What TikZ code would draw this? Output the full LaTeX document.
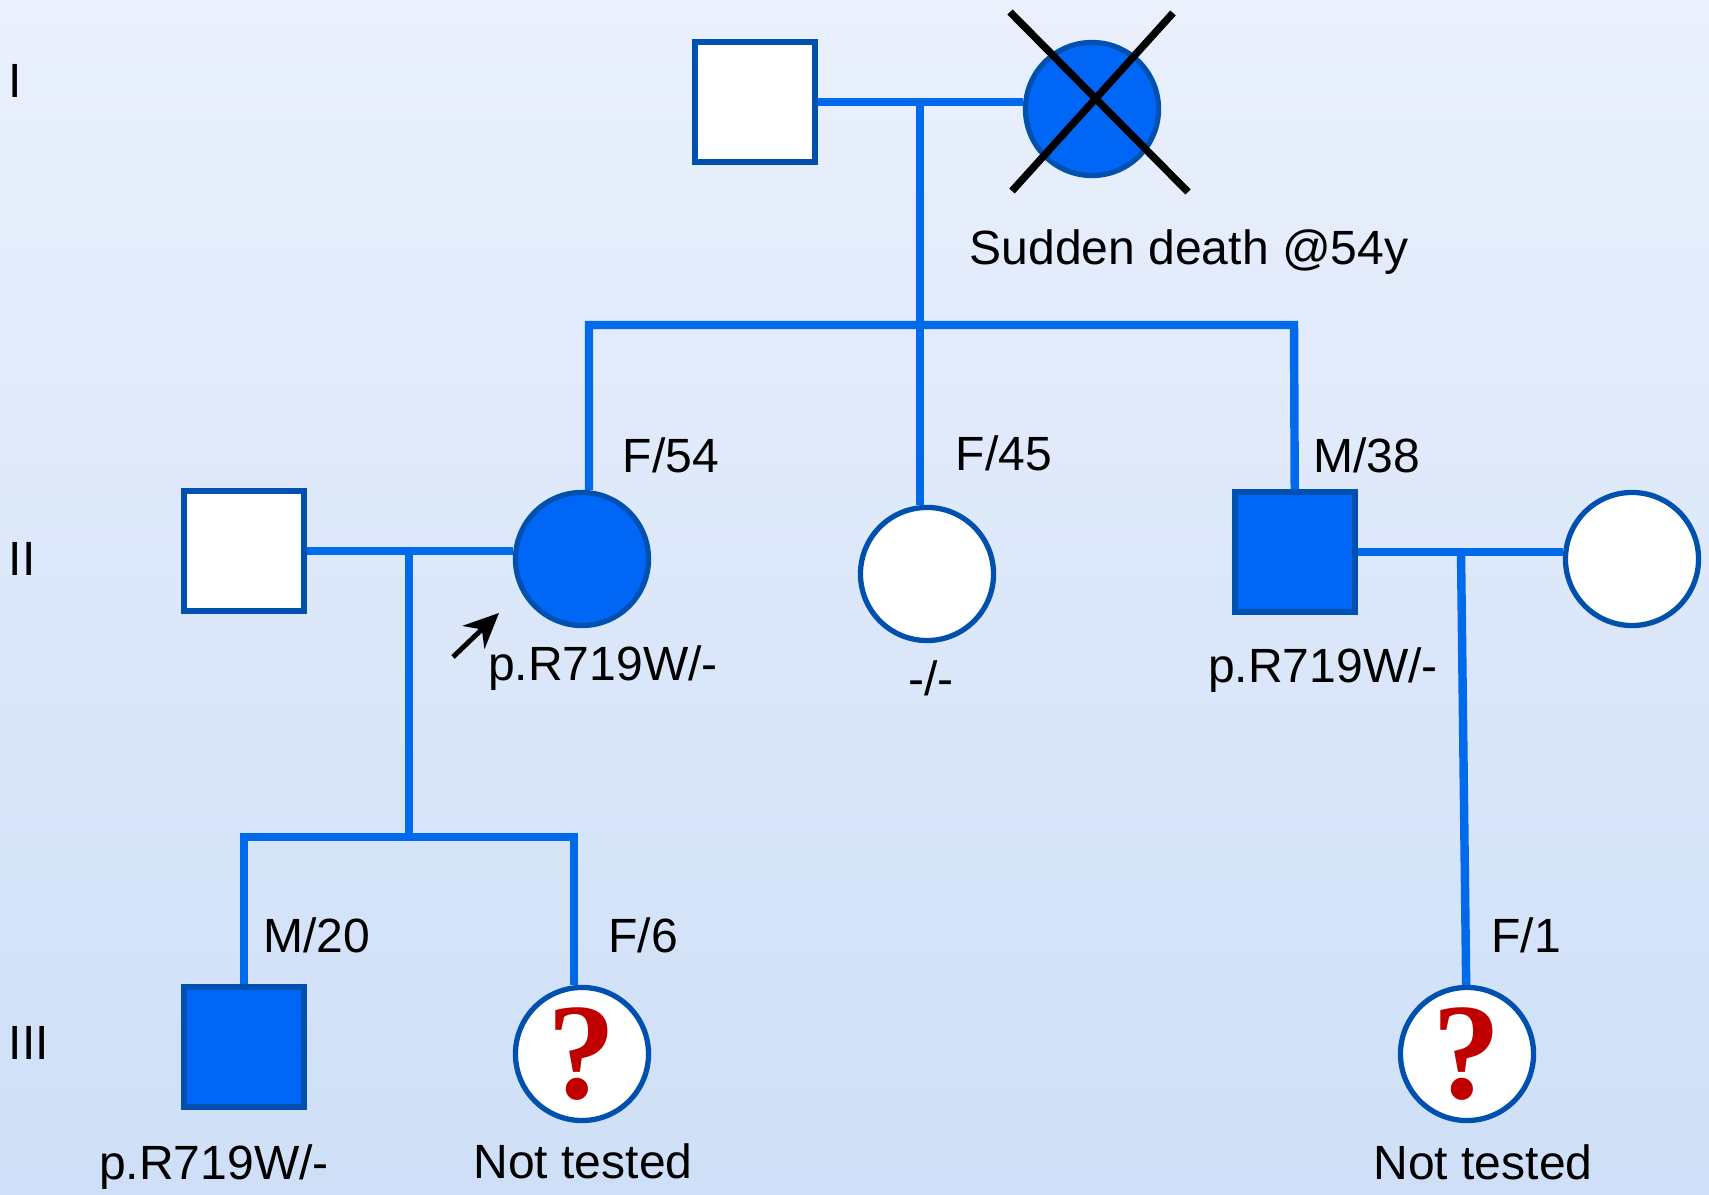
\documentclass[tikz,border=0pt]{standalone}
\usepackage{fontspec}
\setmainfont{Liberation Sans}
\newfontfamily\qmarkfont{Liberation Serif}
\usepackage{tikz}
\usetikzlibrary{positioning, arrows.meta}

\definecolor{pedline}{RGB}{0,106,235}
\definecolor{pedfill}{RGB}{0,102,245}
\definecolor{pededge}{RGB}{0,80,176}
\definecolor{qred}{RGB}{192,0,0}
\definecolor{bgtop}{RGB}{234,240,252}
\definecolor{bgmid}{RGB}{226,235,251}
\definecolor{bgbot}{RGB}{206,223,247}

\begin{document}
\begin{tikzpicture}[x=0.01cm, y=-0.01cm,
    male/.style={rectangle, draw=pededge, line width=1.5pt, fill=white, minimum size=1.2cm, inner sep=0pt},
    female/.style={circle, draw=pededge, line width=1.5pt, fill=white, minimum size=1.33cm, inner sep=0pt},
    affected/.style={fill=pedfill},
    untested/.style={female, text=qred, font=\qmarkfont\bfseries\fontsize{39}{39}\selectfont},
    link/.style={draw=pedline, line width=2.4pt},
    info/.style={anchor=base, inner sep=0pt, font=\fontsize{13.66}{16}\selectfont}]

    % Background
    \shade[top color=bgtop, middle color=bgmid, bottom color=bgbot] (0,0) rectangle (1709,1195);
    \useasboundingbox (0,0) rectangle (1709,1195);

    % Generation labels
    \foreach \gen/\y in {I/98, II/576, III/1059}
        \node[info, anchor=base west] (gen\gen) at (8,\y) {\gen};

    % Generation I
    \node[male] (I1) at (755,102) {};
    \node[female, affected] (I2) at (1092,109) {};
    \draw[black, line width=2.1pt] (1010,12) -- (1188,192) (1173,13) -- (1012,191);
    \node[info] (I2note) at (1189,265) {Sudden death @54y};

    % Generation II
    \node[male] (II1) at (244,551) {};
    \node[female, affected] (II2) at (582,559) {};
    \node[female] (II3) at (927,574) {};
    \node[male, affected] (II4) at (1295,552) {};
    \node[female] (II5) at (1632,559) {};

    \node[info] (II2age) at (671,473) {F/54};
    \node[info] (II3age) at (1004,471) {F/45};
    \node[info] (II4age) at (1367,473) {M/38};
    \node[info] (II2gene) at (603,681) {p.R719W/-};
    \node[info] (II3gene) at (931,696) {-/-};
    \node[info] (II4gene) at (1323,683) {p.R719W/-};

    % Proband arrow
    \coordinate (proband) at (453,657);
    \draw[black, line width=1.4pt, -{Stealth[length=10pt, width=9pt]}] (proband) -- ++(46,-44);

    % Generation III
    \node[male, affected] (III1) at (244,1047) {};
    \node[untested] (III2) at (582,1054) {?};
    \node[untested] (III3) at (1467,1054) {?};

    \node[info] (III1age) at (317,953) {M/20};
    \node[info] (III2age) at (643,953) {F/6};
    \node[info] (III3age) at (1526,953) {F/1};
    \node[info] (III1gene) at (214,1179) {p.R719W/-};
    \node[info] (III2gene) at (583,1178) {Not tested};
    \node[info] (III3gene) at (1483,1179) {Not tested};

    % Lines of descent
    \coordinate (mI) at (920,102);
    \coordinate (sibL) at (589,325);
    \coordinate (sibR) at (1294,325);
    \coordinate (mII1) at (409,552);
    \coordinate (mII2) at (1461,552);
    \coordinate (sibIIIR) at (574,837);

    \draw[link] (I1.east) -- (I1.east -| I2.west);
    \draw[link] (mI) -- (mI |- sibL);
    \draw[link] (sibL |- II2.north) -- (sibL) -- (sibR) -- (II4);
    \draw[link] (mI |- sibL) -- (mI |- II3.north);

    \draw[link] (II1.east) -- (II1.east -| II2.west);
    \draw[link] (mII1) -- (mII1 |- sibIIIR);
    \draw[link] (III1) -- (III1 |- sibIIIR) -- (sibIIIR) -- (sibIIIR |- III2.north);

    \draw[link] (II4.east) -- (II4.east -| II5.west);
    \draw[link] (mII2) -- (III3);
\end{tikzpicture}
\end{document}
